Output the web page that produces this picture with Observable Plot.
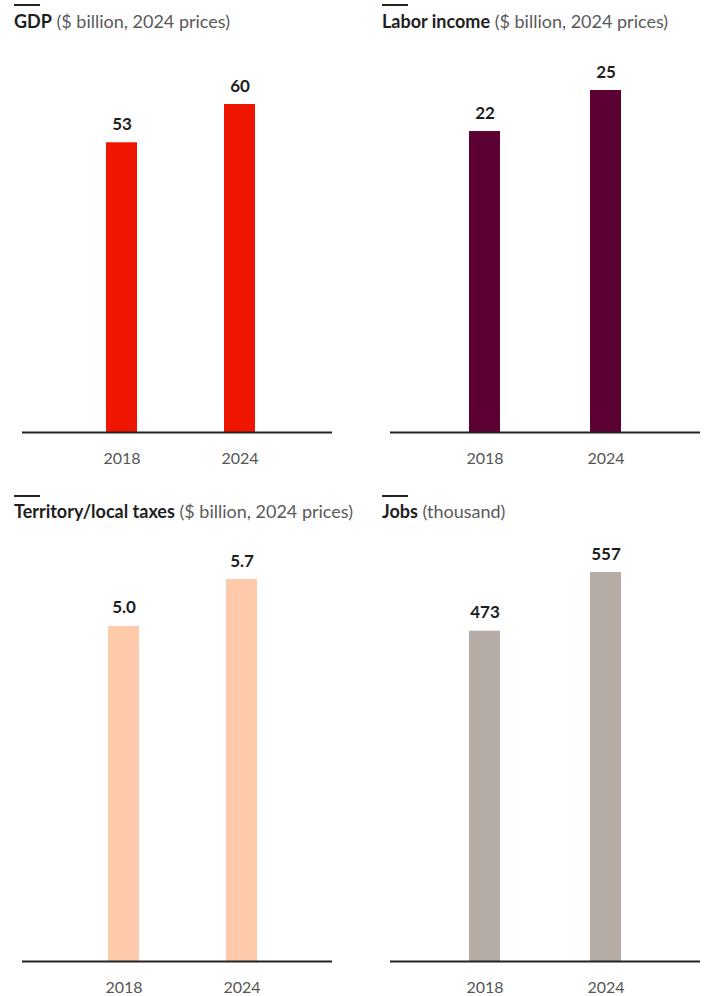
<!DOCTYPE html>
<html><head><meta charset="utf-8">
<script src="https://cdn.jsdelivr.net/npm/d3@7"></script>
<script src="https://cdn.jsdelivr.net/npm/@observablehq/plot@0.6"></script>
<style>
  html, body { margin: 0; padding: 0; background: #fff; }
  #root { position: relative; width: 727px; height: 996px; overflow: hidden; font-family: Lato, "Noto Sans", sans-serif; }
  .accent { position: absolute; width: 26px; height: 2px; background: #222; }
  .title { position: absolute; font-size: 18px; line-height: 18px; white-space: nowrap; color: #5a5a5a; }
  .title b { color: #1e1e1e; font-weight: 700; }
  .panel { position: absolute; }
</style>
</head>
<body>
<div id="root"></div>
<script>
// ---- data ----
const years = ["2018", "2024"];
const gdp = [53, 60];
const laborIncome = [22, 25];
const taxes = [5.0, 5.7];
const jobs = [473, 557];

const titlesBold = ["GDP", "Labor income", "Territory/local taxes", "Jobs"];
const titlesRest = ["($ billion, 2024 prices)", "($ billion, 2024 prices)", "($ billion, 2024 prices)", "(thousand)"];
const labelFormats = ["d", "d", ".1f", "d"];
const seriesList = [gdp, laborIncome, taxes, jobs];
const colors = ["#ee1600", "#5c0033", "#ffcaaa", "#b5aca6"];

// ---- layout (style only) ----
const layout = [
  {left: 0,   top: 36,  width: 363, height: 444, mt: 68, mb: 48, ml: 22, mr: 31, il: 84, ir: 77, pad: 87/118, titleX: 14,  titleY: 12,  accentY: 4},
  {left: 363, top: 36,  width: 364, height: 444, mt: 54, mb: 48, ml: 27, mr: 27, il: 79, ir: 79, pad: 90/121, titleX: 19,  titleY: 12,  accentY: 4},
  {left: 0,   top: 525, width: 363, height: 471, mt: 54, mb: 35, ml: 22, mr: 31, il: 86, ir: 75, pad: 87/118, titleX: 14,  titleY: 502, accentY: 495},
  {left: 363, top: 525, width: 364, height: 471, mt: 47, mb: 35, ml: 27, mr: 27, il: 79, ir: 79, pad: 90/121, titleX: 19,  titleY: 502, accentY: 495}
];

const root = document.getElementById("root");

seriesList.forEach((values, i) => {
  const L = layout[i];
  const data = years.map((year, j) => ({year, value: values[j]}));
  const fmt = d3.format(labelFormats[i]);

  const accent = document.createElement("div");
  accent.className = "accent";
  accent.style.left = (L.left + L.titleX) + "px";
  accent.style.top = L.accentY + "px";
  root.appendChild(accent);

  const title = document.createElement("div");
  title.className = "title";
  title.style.left = (L.left + L.titleX) + "px";
  title.style.top = L.titleY + "px";
  const b = document.createElement("b");
  b.textContent = titlesBold[i];
  title.appendChild(b);
  title.appendChild(document.createTextNode(" " + titlesRest[i]));
  root.appendChild(title);

  const chart = Plot.plot({
    width: L.width,
    height: L.height,
    marginTop: L.mt,
    marginBottom: L.mb,
    marginLeft: L.ml,
    marginRight: L.mr,
    style: {fontFamily: "Lato, 'Noto Sans', sans-serif", fontSize: "16px", color: "#555", background: "transparent", overflow: "visible"},
    x: {domain: years, paddingInner: L.pad, paddingOuter: 0, insetLeft: L.il, insetRight: L.ir, round: false, tickSize: 0, tickPadding: 20, label: null},
    y: {domain: [0, d3.max(values)], axis: null},
    marks: [
      Plot.barY(data, {x: "year", y: "value", fill: colors[i]}),
      Plot.ruleY([0], {stroke: "#222", strokeWidth: 2}),
      Plot.text(data, {x: "year", y: "value", text: d => fmt(d.value), lineAnchor: "bottom", dy: -13, fontSize: 17, fontWeight: 700, fill: "#1e1e1e"})
    ]
  });
  const wrap = document.createElement("div");
  wrap.className = "panel";
  wrap.style.left = L.left + "px";
  wrap.style.top = L.top + "px";
  wrap.appendChild(chart);
  root.appendChild(wrap);
});
</script>
</body></html>
